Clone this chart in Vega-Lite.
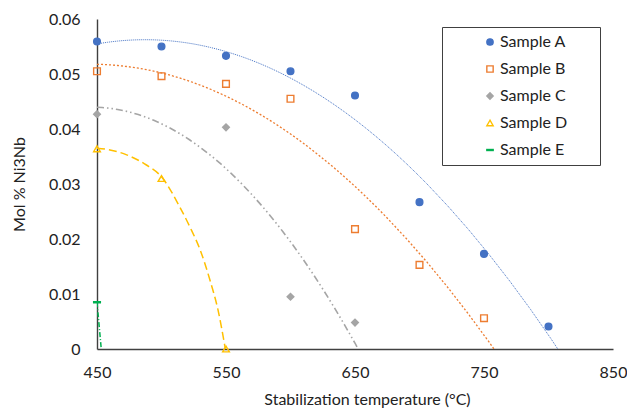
{
  "$schema": "https://vega.github.io/schema/vega-lite/v6.json",
  "width": 516,
  "height": 330,
  "autosize": "none",
  "padding": {"left": 97, "top": 19, "right": 14, "bottom": 60},
  "background": "white",
  "config": {
    "view": {"stroke": null},
    "font": "Lato",
    "axis": {"grid": false, "ticks": false, "labelFlush": false, "domainColor": "#404040", "domainWidth": 1.4, "labelFont": "Lato", "labelFontSize": 16, "labelColor": "#222", "titleFont": "Lato", "titleFontSize": 16, "titleFontWeight": "normal", "titleColor": "#222"},
    "legend": {"labelFont": "Lato", "labelFontSize": 16, "labelColor": "#222"}
  },
  "datasets": {
    "points": [
      {"Sample": "Sample A", "T": 450, "mol": 0.0559},
      {"Sample": "Sample A", "T": 500, "mol": 0.0550},
      {"Sample": "Sample A", "T": 550, "mol": 0.0533},
      {"Sample": "Sample A", "T": 600, "mol": 0.0505},
      {"Sample": "Sample A", "T": 650, "mol": 0.0461},
      {"Sample": "Sample A", "T": 700, "mol": 0.0267},
      {"Sample": "Sample A", "T": 750, "mol": 0.0173},
      {"Sample": "Sample A", "T": 800, "mol": 0.0041},
      {"Sample": "Sample B", "T": 450, "mol": 0.0505},
      {"Sample": "Sample B", "T": 500, "mol": 0.0496},
      {"Sample": "Sample B", "T": 550, "mol": 0.0482},
      {"Sample": "Sample B", "T": 600, "mol": 0.0455},
      {"Sample": "Sample B", "T": 650, "mol": 0.0218},
      {"Sample": "Sample B", "T": 700, "mol": 0.0153},
      {"Sample": "Sample B", "T": 750, "mol": 0.0056},
      {"Sample": "Sample C", "T": 450, "mol": 0.0427},
      {"Sample": "Sample C", "T": 550, "mol": 0.0403},
      {"Sample": "Sample C", "T": 600, "mol": 0.0095},
      {"Sample": "Sample C", "T": 650, "mol": 0.0048},
      {"Sample": "Sample D", "T": 450, "mol": 0.0364},
      {"Sample": "Sample D", "T": 500, "mol": 0.0310},
      {"Sample": "Sample D", "T": 550, "mol": 0.0},
      {"Sample": "Sample E", "T": 450, "mol": 0.0085}
    ],
    "trendD": [
      {"Sample": "Sample D", "T": 450, "mol": 0.0365},
      {"Sample": "Sample D", "T": 460, "mol": 0.0362},
      {"Sample": "Sample D", "T": 473, "mol": 0.0353},
      {"Sample": "Sample D", "T": 488, "mol": 0.0335},
      {"Sample": "Sample D", "T": 500, "mol": 0.0313},
      {"Sample": "Sample D", "T": 514, "mol": 0.0259},
      {"Sample": "Sample D", "T": 522, "mol": 0.0222},
      {"Sample": "Sample D", "T": 530, "mol": 0.0180},
      {"Sample": "Sample D", "T": 537.6, "mol": 0.0125},
      {"Sample": "Sample D", "T": 543.8, "mol": 0.0071},
      {"Sample": "Sample D", "T": 549.5, "mol": 0.0}
    ],
    "trendE": [
      {"Sample": "Sample E", "T": 450, "mol": 0.0085},
      {"Sample": "Sample E", "T": 453.3, "mol": 0.0}
    ]
  },
  "layer": [
    {
      "data": {"name": "points"},
      "transform": [
        {"filter": "datum.Sample == 'Sample A' || datum.Sample == 'Sample B' || datum.Sample == 'Sample C'"},
        {"regression": "mol", "on": "T", "groupby": ["Sample"], "method": "poly", "order": 2, "extent": [450, 850]}
      ],
      "mark": {"type": "line", "clip": true},
      "encoding": {
        "x": {"field": "T", "type": "quantitative", "scale": {"domain": [450, 850], "nice": false, "zero": false}},
        "y": {"field": "mol", "type": "quantitative", "scale": {"domain": [0, 0.06], "nice": false}},
        "color": {"field": "Sample", "type": "nominal", "legend": null,
          "scale": {"domain": ["Sample A", "Sample B", "Sample C"], "range": ["#4472C4", "#ED7D31", "#A5A5A5"]}},
        "strokeDash": {"field": "Sample", "type": "nominal", "legend": null,
          "scale": {"domain": ["Sample A", "Sample B", "Sample C"], "range": [[1, 1], [2, 2], [7, 3, 1.5, 3, 1.5, 3]]}},
        "strokeWidth": {"field": "Sample", "type": "nominal", "legend": null,
          "scale": {"domain": ["Sample A", "Sample B", "Sample C"], "range": [1, 1.6, 1.4]}}
      }
    },
    {
      "data": {"name": "trendD"},
      "mark": {"type": "line", "clip": true, "color": "#FFC000", "strokeWidth": 1.5, "strokeDash": [8, 4], "interpolate": "monotone"},
      "encoding": {
        "x": {"field": "T", "type": "quantitative"},
        "y": {"field": "mol", "type": "quantitative"}
      }
    },
    {
      "data": {"name": "trendE"},
      "mark": {"type": "line", "clip": true, "color": "#00B050", "strokeWidth": 1.5, "strokeDash": [5, 2, 1, 2]},
      "encoding": {
        "x": {"field": "T", "type": "quantitative"},
        "y": {"field": "mol", "type": "quantitative"}
      }
    },
    {
      "data": {"name": "points"},
      "mark": {"type": "point", "opacity": 1, "strokeWidth": 1.4, "size": 45},
      "encoding": {
        "x": {"field": "T", "type": "quantitative",
          "axis": {"title": "Stabilization temperature (°C)", "values": [450, 550, 650, 750, 850], "labelPadding": 15, "titlePadding": 11, "titleX": 270}},
        "y": {"field": "mol", "type": "quantitative",
          "axis": {"title": "Mol % Ni3Nb", "values": [0, 0.01, 0.02, 0.03, 0.04, 0.05, 0.06], "labelPadding": 17, "titlePadding": 21, "format": "~g"}},
        "shape": {"field": "Sample", "type": "nominal",
          "scale": {"domain": ["Sample A", "Sample B", "Sample C", "Sample D", "Sample E"], "range": ["circle", "square", "diamond", "triangle-up", "M-1,-0.16H1V0.16H-1Z"]},
          "legend": {"title": "\u00a0", "titleOrient": "right", "titlePadding": 26, "orient": "none", "legendX": 345, "legendY": 8, "padding": 7, "symbolOffset": 33, "rowPadding": 11, "labelOffset": 2, "symbolSize": 40, "symbolStrokeWidth": 1.4, "strokeColor": "#404040", "fillColor": "white"}},
        "stroke": {"field": "Sample", "type": "nominal",
          "scale": {"domain": ["Sample A", "Sample B", "Sample C", "Sample D", "Sample E"], "range": ["#4472C4", "#ED7D31", "#A5A5A5", "#FFC000", "#00B050"]},
          "legend": {"title": "\u00a0", "titleOrient": "right", "titlePadding": 26, "orient": "none", "legendX": 345, "legendY": 8, "padding": 7, "symbolOffset": 33, "rowPadding": 11, "labelOffset": 2, "symbolSize": 40, "symbolStrokeWidth": 1.4, "strokeColor": "#404040", "fillColor": "white"}},
        "fill": {"field": "Sample", "type": "nominal",
          "scale": {"domain": ["Sample A", "Sample B", "Sample C", "Sample D", "Sample E"], "range": ["#4472C4", "transparent", "#A5A5A5", "transparent", "#00B050"]},
          "legend": {"title": "\u00a0", "titleOrient": "right", "titlePadding": 26, "orient": "none", "legendX": 345, "legendY": 8, "padding": 7, "symbolOffset": 33, "rowPadding": 11, "labelOffset": 2, "symbolSize": 40, "symbolStrokeWidth": 1.4, "strokeColor": "#404040", "fillColor": "white"}}
      }
    }
  ]
}
